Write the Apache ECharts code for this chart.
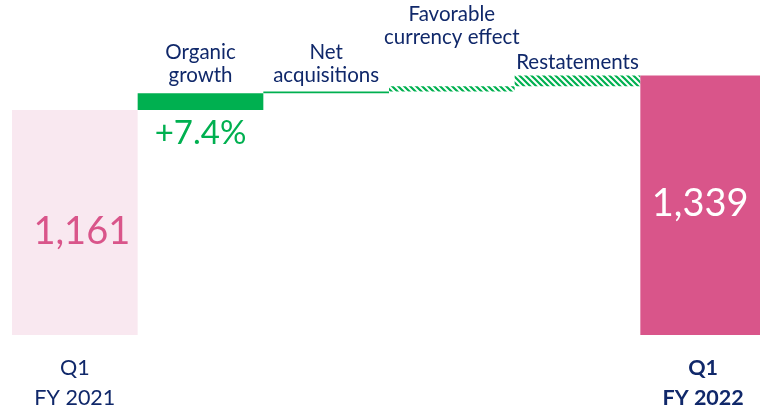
<!DOCTYPE html>
<html>
<head>
<meta charset="utf-8">
<script src="https://cdn.jsdelivr.net/npm/echarts@6/dist/echarts.min.js"></script>
<style>
  html, body { margin: 0; padding: 0; background: #fff; overflow: hidden; }
  #chart { width: 766px; height: 414px; }
</style>
</head>
<body>
<div id="chart"></div>
<script>
// waterfall data
var categories = ['Q1\nFY 2021', 'Organic\ngrowth', 'Net\nacquisitions', 'Favorable\ncurrency effect', 'Restatements', 'Q1\nFY 2022'];
var startValue = 1161;
var endValue = 1339;
var changes = [86, 10, 26, 56];
var growthLabel = '+7.4%';

var navy = '#10286a';
var green = '#00b050';

function hatch() {
	var c = document.createElement('canvas');
	c.width = 6; c.height = 6;
	var g = c.getContext('2d');
	g.strokeStyle = green;
	g.lineWidth = 2.2;
	g.beginPath();
	g.moveTo(-1, -1); g.lineTo(7, 7);
	g.moveTo(-1, 5); g.lineTo(1, 7);
	g.moveTo(5, -1); g.lineTo(7, 1);
	g.stroke();
	return c;
}
var hatchFill = { image: hatch(), repeat: 'repeat' };

// build stacked base + visible parts
var base = [0];
var parts = [startValue];
var run = startValue;
changes.forEach(function (v) {
	base.push(run);
	parts.push(v);
	run += v;
});
base.push(0);
parts.push(endValue);

var labelDist = [0, 6, 5, 37, 2, 0];
var fills = ['#f9e8f0', green, green, hatchFill, hatchFill, '#d9558a'];

var visData = parts.map(function (v, i) {
	var item = { value: v, itemStyle: { color: fills[i] } };
	if (i === 0) {
		item.label = { show: true, position: 'inside', offset: [7, 9], formatter: '1,161', fontSize: 38, color: '#d9558a' };
	} else if (i === parts.length - 1) {
		item.label = { show: true, position: 'inside', offset: [-3, -2], formatter: '1,339', fontSize: 38, color: '#fff' };
	} else {
		item.label = { show: true, position: 'top', distance: labelDist[i], fontSize: 20.5, lineHeight: 23, color: navy, formatter: '{b}' };
	}
	return item;
});

var baseData = base.map(function (v, i) {
	var item = { value: v };
	if (i === 1) {
		item.label = { show: true, position: 'insideTop', distance: 7, formatter: growthLabel, fontSize: 33, color: green };
	}
	return item;
});

var myChart = echarts.init(document.getElementById('chart'));
var option = {
	animation: false,
	textStyle: { fontFamily: 'Lato' },
	grid: { left: 12, right: 0, top: 35, height: 300 },
	xAxis: {
		type: 'category',
		data: categories,
		axisLine: { show: false },
		axisTick: { show: false },
		axisLabel: {
			margin: 18,
			fontSize: 21.5,
			lineHeight: 30,
			color: navy,
			interval: 0,
			formatter: function (v, i) {
				if (i === 0) return v;
				if (i === categories.length - 1) return v.split('\n').map(function (s) { return '{b|' + s + '}'; }).join('\n');
				return '';
			},
			rich: { b: { fontWeight: 'bold', fontSize: 21.5, lineHeight: 30, color: navy } }
		}
	},
	yAxis: {
		type: 'value',
		min: 0,
		max: 1548,
		show: false,
		splitLine: { show: false }
	},
	series: [
		{
			type: 'bar',
			stack: 'w',
			barWidth: '100%',
			itemStyle: { color: 'transparent' },
			silent: true,
			data: baseData
		},
		{
			type: 'bar',
			stack: 'w',
			barWidth: '100%',
			data: visData
		}
	]
};
myChart.setOption(option);
</script>
</body>
</html>
